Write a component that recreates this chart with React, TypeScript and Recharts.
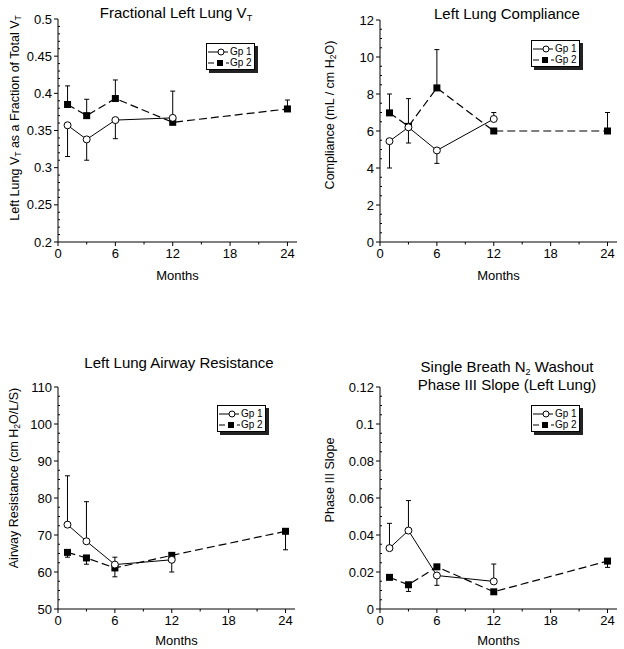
import React from "react";
import { LineChart, Line, XAxis, YAxis, ErrorBar, Label } from "recharts";

const FONT = "'Liberation Sans', Arial, sans-serif";

const months = [1, 3, 6, 12, 24];
const monthTicks = [0, 6, 12, 18, 24];

// error entries are [minus, plus], null = no bar drawn
const vtGp1 = [0.357, 0.338, 0.364, 0.367, null];
const vtGp1Err = [[0.042, 0], [0.028, 0], [0.025, 0], [0, 0.036], null];
const vtGp2 = [0.385, 0.37, 0.393, 0.361, 0.379];
const vtGp2Err = [[0, 0.025], [0, 0.022], [0, 0.025], null, [0, 0.012]];
const vtTicks = [0.2, 0.25, 0.3, 0.35, 0.4, 0.45, 0.5];

const compGp1 = [5.45, 6.2, 4.95, 6.65, null];
const compGp1Err = [[1.45, 0], [0.85, 0], [0.7, 0], [0, 0.35], null];
const compGp2 = [6.98, 6.25, 8.33, 6.0, 6.0];
const compGp2Err = [[0, 1.02], [0, 1.5], [0, 2.07], null, [0, 1.0]];
const compTicks = [0, 2, 4, 6, 8, 10, 12];

const resGp1 = [72.8, 68.3, 62.0, 63.3, null];
const resGp1Err = [[0, 13.2], [0, 10.7], [0, 2.0], [3.3, 0], null];
const resGp2 = [65.3, 63.8, 61.1, 64.5, 71.0];
const resGp2Err = [[1.3, 0], [1.7, 0], [2.4, 0], null, [5.0, 0]];
const resTicks = [50, 60, 70, 80, 90, 100, 110];

const slopeGp1 = [0.0329, 0.0424, 0.0181, 0.0149, null];
const slopeGp1Err = [[0, 0.0134], [0, 0.0162], [0.0053, 0], [0, 0.0094], null];
const slopeGp2 = [0.0171, 0.0131, 0.0228, 0.0093, 0.0259];
const slopeGp2Err = [null, [0.0036, 0], null, null, [0.0034, 0]];
const slopeTicks = [0, 0.02, 0.04, 0.06, 0.08, 0.1, 0.12];

type Seg = { t: string; sub?: boolean };

const buildRows = (g1: any[], g1e: any[], g2: any[], g2e: any[]) =>
  months.map((m, i) => ({ month: m, g1: g1[i], g1e: g1e[i], g2: g2[i], g2e: g2e[i] }));

const withMinors = (majors: number[], sub: number) => {
  const step = (majors[1] - majors[0]) / sub;
  const out: number[] = [];
  const n = (majors.length - 1) * sub;
  for (let i = 0; i <= n; i++) out.push(+(majors[0] + i * step).toFixed(6));
  return out;
};

const isMajor = (v: number, majors: number[]) => majors.some((m) => Math.abs(m - v) < 1e-7);
const fmt = (v: number) => String(+v.toFixed(4));

const SquareDot = (props: any) => {
  const { cx, cy } = props;
  if (cx == null || cy == null) return <g />;
  return <rect x={cx - 3.5} y={cy - 3.5} width={7} height={7} fill="#000" />;
};

const makeYTick = (majors: number[]) => (props: any) => {
  const { x, y, payload } = props;
  const major = isMajor(payload.value, majors);
  return (
    <g>
      {major ? (
        <>
          <line x1={x - 4} x2={x} y1={y} y2={y} stroke="#000" />
          <text x={x - 6} y={y} dy={4.5} textAnchor="end" fontSize={13} fontFamily={FONT} fill="#000">
            {fmt(payload.value)}
          </text>
        </>
      ) : (
        <line x1={x} x2={x + 2} y1={y} y2={y} stroke="#000" />
      )}
    </g>
  );
};

const XTick = (props: any) => {
  const { x, y, payload } = props;
  const major = isMajor(payload.value, monthTicks);
  return (
    <g>
      <line x1={x} x2={x} y1={y} y2={y + (major ? 4 : 2.5)} stroke="#000" />
      {major && (
        <text x={x} y={y + 16} textAnchor="middle" fontSize={13} fontFamily={FONT} fill="#000">
          {payload.value}
        </text>
      )}
    </g>
  );
};

const YTitle = ({ cx, cy, segs }: { cx: number; cy: number; segs: Seg[] }) => (
  <text
    x={cx}
    y={cy}
    transform={`rotate(-90 ${cx} ${cy})`}
    textAnchor="middle"
    dominantBaseline="central"
    fontSize={12.5}
    fontFamily={FONT}
    fill="#000"
  >
    {segs.map((s, i) => {
      const prevSub = i > 0 && segs[i - 1].sub;
      const dy = s.sub ? 3 : prevSub ? -3 : 0;
      return (
        <tspan key={i} dy={dy} fontSize={s.sub ? 8.5 : 12.5}>
          {s.t}
        </tspan>
      );
    })}
  </text>
);

const LegendBox = ({ left, top }: { left: number; top: number }) => (
  <div
    style={{
      position: "absolute",
      left,
      top,
      width: 49,
      height: 27,
      border: "1px solid #000",
      boxShadow: "3px 3px 0 #222",
      background: "#fff",
      fontFamily: FONT,
      fontSize: 10,
      lineHeight: "11px",
      boxSizing: "border-box",
      paddingTop: 2,
      whiteSpace: "nowrap",
    }}
  >
    <div style={{ display: "flex", alignItems: "center", height: 11 }}>
      <svg width={22} height={10} style={{ marginLeft: 1, flex: "none" }}>
        <line x1={0} x2={20} y1={5} y2={5} stroke="#000" />
        <circle cx={13} cy={5} r={3} fill="#fff" stroke="#000" />
      </svg>
      <span>Gp 1</span>
    </div>
    <div style={{ display: "flex", alignItems: "center", height: 11 }}>
      <svg width={22} height={10} style={{ marginLeft: 1, flex: "none" }}>
        <line x1={0} x2={6} y1={5} y2={5} stroke="#000" />
        <rect x={9} y={2} width={6} height={6} fill="#000" />
        <line x1={18} x2={21} y1={5} y2={5} stroke="#000" />
      </svg>
      <span>Gp 2</span>
    </div>
  </div>
);

type PanelProps = {
  left: number;
  top: number;
  height: number;
  margin: { top: number; right: number; left: number; bottom: number };
  yWidth: number;
  xHeight: number;
  rows: any[];
  majors: number[];
  sub: number;
  yLabel: Seg[];
  yLabelX: number;
  yLabelY: number;
};

const Panel = (p: PanelProps) => {
  const yTicks = withMinors(p.majors, p.sub);
  const xTicks = withMinors(monthTicks, 2);
  return (
    <div style={{ position: "absolute", left: p.left, top: p.top }}>
      <LineChart width={312} height={p.height} data={p.rows} margin={p.margin}>
        <XAxis
          type="number"
          dataKey="month"
          domain={[0, 25]}
          ticks={xTicks}
          interval={0}
          tickSize={0}
          tickMargin={0}
          tickLine={false}
          tick={XTick}
          height={p.xHeight}
          axisLine={{ stroke: "#000" }}
        >
          <Label
            value="Months"
            position="insideBottom"
            offset={0}
            fontSize={13}
            fontFamily={FONT}
            fill="#000"
          />
        </XAxis>
        <YAxis
          type="number"
          domain={[p.majors[0], p.majors[p.majors.length - 1]]}
          ticks={yTicks}
          interval={0}
          tickSize={0}
          tickMargin={0}
          tickLine={false}
          tick={makeYTick(p.majors)}
          width={p.yWidth}
          axisLine={{ stroke: "#000" }}
        >
          <Label content={() => <YTitle cx={p.yLabelX} cy={p.yLabelY} segs={p.yLabel} />} />
        </YAxis>
        <Line
          dataKey="g2"
          stroke="#000"
          strokeWidth={1.2}
          strokeDasharray="8 4"
          dot={<SquareDot />}
          activeDot={false}
          isAnimationActive={false}
        >
          <ErrorBar dataKey="g2e" width={2.5} stroke="#000" strokeWidth={1} direction="y" />
        </Line>
        <Line
          dataKey="g1"
          stroke="#000"
          strokeWidth={1}
          dot={{ r: 3.5, fill: "#fff", stroke: "#000", strokeWidth: 1 }}
          activeDot={false}
          isAnimationActive={false}
        >
          <ErrorBar dataKey="g1e" width={2.5} stroke="#000" strokeWidth={1} direction="y" />
        </Line>
      </LineChart>
    </div>
  );
};

const titleStyle = (left: number, top: number): React.CSSProperties => ({
  position: "absolute",
  left: left - 120,
  top,
  width: 240,
  textAlign: "center",
  fontFamily: FONT,
  fontSize: 15,
  lineHeight: "18px",
  color: "#000",
  whiteSpace: "nowrap",
});

const subStyle: React.CSSProperties = { fontSize: 9, position: "relative", top: 3, lineHeight: 0 };

export default function App() {
  return (
    <div style={{ position: "absolute", left: 0, top: 0, width: 624, height: 649, background: "#fff" }}>
      <Panel
        left={0}
        top={0}
        height={300}
        margin={{ top: 19, right: 15, left: 0, bottom: 20 }}
        yWidth={58}
        xHeight={38}
        rows={buildRows(vtGp1, vtGp1Err, vtGp2, vtGp2Err)}
        majors={vtTicks}
        sub={5}
        yLabelX={15}
        yLabelY={118}
        yLabel={[
          { t: "Left Lung V" },
          { t: "T", sub: true },
          { t: " as a Fraction of Total V" },
          { t: "T", sub: true },
        ]}
      />
      <Panel
        left={312}
        top={0}
        height={300}
        margin={{ top: 20, right: 7, left: 0, bottom: 20 }}
        yWidth={68}
        xHeight={38}
        rows={buildRows(compGp1, compGp1Err, compGp2, compGp2Err)}
        majors={compTicks}
        sub={4}
        yLabelX={18}
        yLabelY={115}
        yLabel={[{ t: "Compliance (mL / cm H" }, { t: "2", sub: true }, { t: "O)" }]}
      />
      <Panel
        left={0}
        top={320}
        height={329}
        margin={{ top: 67, right: 17, left: 0, bottom: 4 }}
        yWidth={58}
        xHeight={36}
        rows={buildRows(resGp1, resGp1Err, resGp2, resGp2Err)}
        majors={resTicks}
        sub={4}
        yLabelX={14}
        yLabelY={158}
        yLabel={[{ t: "Airway Resistance (cm H" }, { t: "2", sub: true }, { t: "O/L/S)" }]}
      />
      <Panel
        left={312}
        top={320}
        height={329}
        margin={{ top: 67, right: 7, left: 0, bottom: 4 }}
        yWidth={68}
        xHeight={36}
        rows={buildRows(slopeGp1, slopeGp1Err, slopeGp2, slopeGp2Err)}
        majors={slopeTicks}
        sub={4}
        yLabelX={18}
        yLabelY={160}
        yLabel={[{ t: "Phase III Slope" }]}
      />

      <div style={titleStyle(176, 4)}>
        Fractional Left Lung V<span style={subStyle}>T</span>
      </div>
      <div style={titleStyle(507, 5)}>Left Lung Compliance</div>
      <div style={titleStyle(179, 354)}>Left Lung Airway Resistance</div>
      <div style={titleStyle(507, 358)}>
        Single Breath N<span style={subStyle}>2</span> Washout
        <br />
        Phase III Slope (Left Lung)
      </div>

      <LegendBox left={206} top={43} />
      <LegendBox left={531} top={40} />
      <LegendBox left={217} top={405} />
      <LegendBox left={531} top={405} />
    </div>
  );
}
